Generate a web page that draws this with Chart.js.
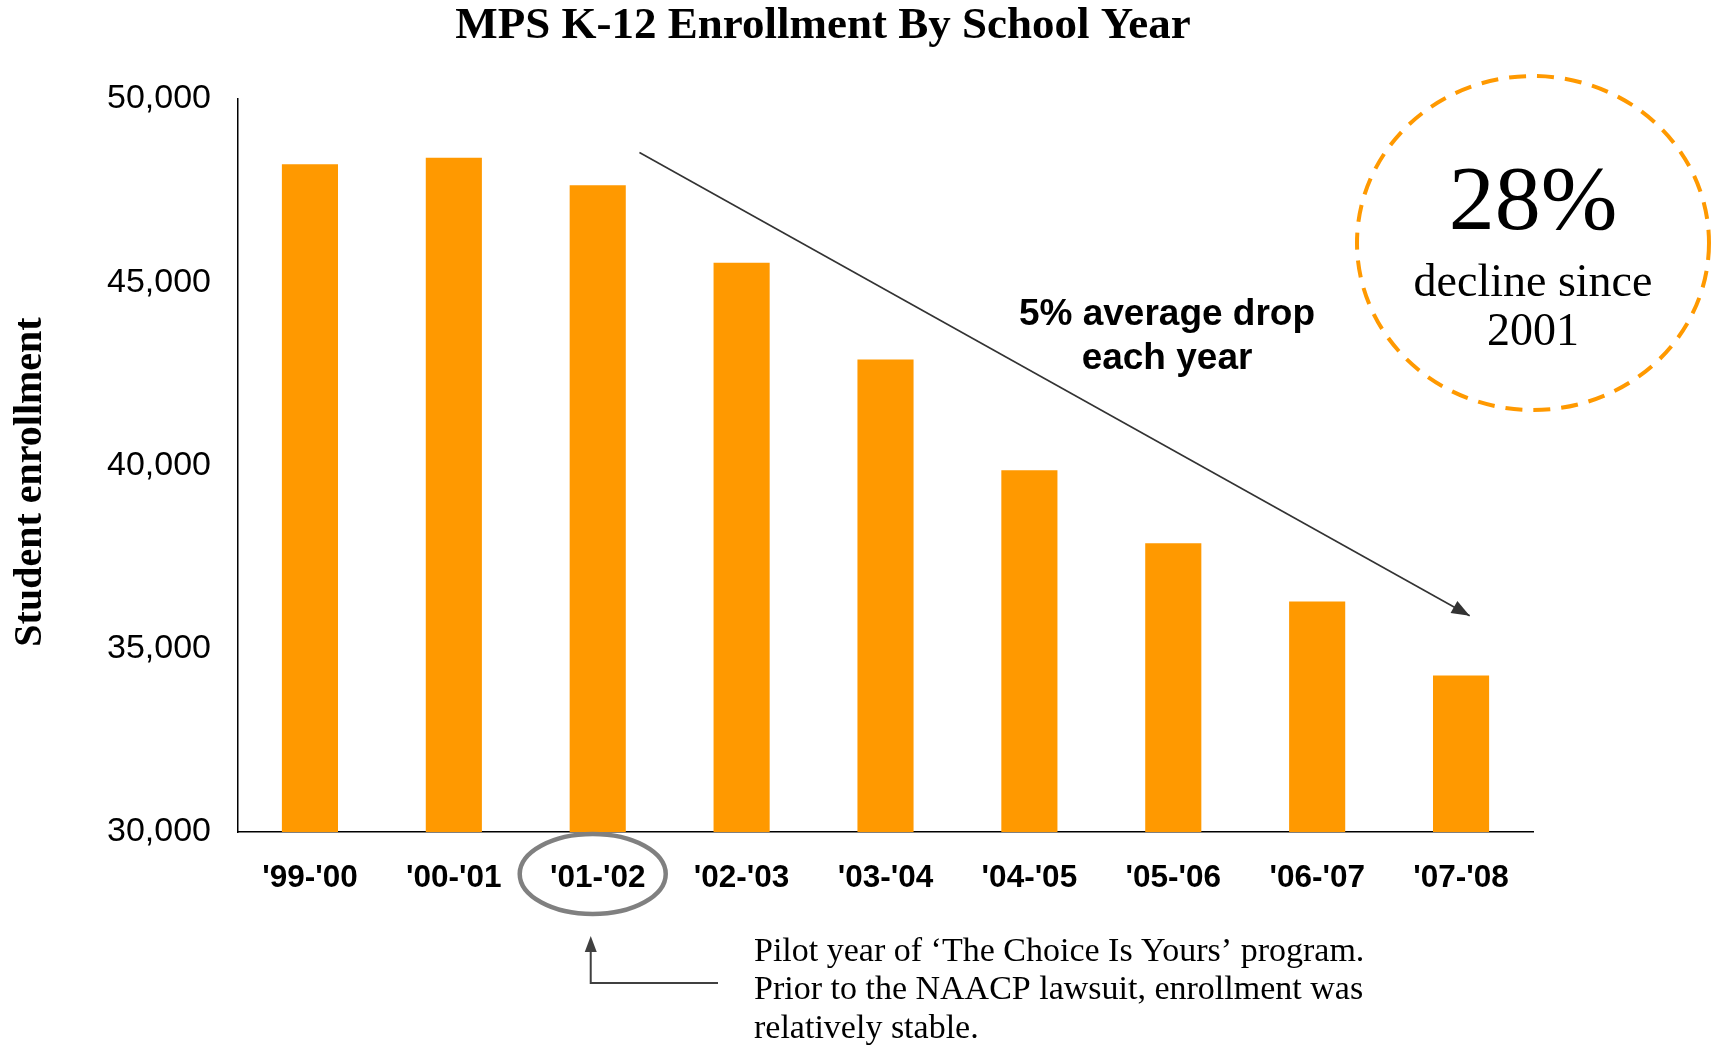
<!DOCTYPE html>
<html>
<head>
<meta charset="utf-8">
<title>MPS K-12 Enrollment By School Year</title>
<script src="https://cdn.jsdelivr.net/npm/chart.js@4.4.1/dist/chart.umd.min.js"></script>
<style>
  html, body { margin: 0; padding: 0; background: #fff; }
  #wrap { width: 1717px; height: 1046px; }
</style>
</head>
<body>
<div id="wrap"><canvas id="enrollmentChart" width="1717" height="1046"></canvas></div>
<script>
// data
const schoolYears = ["'99-'00", "'00-'01", "'01-'02", "'02-'03", "'03-'04", "'04-'05", "'05-'06", "'06-'07", "'07-'08"];
const enrollment = [48220, 48400, 47650, 45530, 42890, 39870, 37880, 36290, 34270];
const yTicks = [30000, 35000, 40000, 45000, 50000];
const noteLines = [
    "Pilot year of \u2018The Choice Is Yours\u2019 program.",
    "Prior to the NAACP lawsuit, enrollment was",
    "relatively stable."
];

const ORANGE = "rgb(255, 153, 0)";
const SERIF = '"Palatino Linotype", "Book Antiqua", Palatino, "Liberation Serif", serif';
const SANS = '"Liberation Sans", Arial, sans-serif';

// Draws the titles, the call-outs and arrows on top of the bars
const annotations = {
    id: "annotations",
    afterDraw(chart) {
        const ctx = chart.ctx;
        const x = chart.scales.x;
        const y = chart.scales.y;
        const area = chart.chartArea;
        ctx.save();

        // title
        ctx.fillStyle = "#000";
        ctx.font = "bold 45px " + SERIF;
        ctx.textAlign = "center";
        ctx.textBaseline = "middle";
        ctx.fillText("MPS K-12 Enrollment By School Year", 823, 26);

        // y axis title
        ctx.save();
        ctx.translate(31, 482);
        ctx.rotate(-Math.PI / 2);
        ctx.font = "bold 40px " + SERIF;
        ctx.fillText("Student enrollment", 0, 0);
        ctx.restore();

        // trend arrow
        const x0 = x.getPixelForValue(2.29), y0 = y.getPixelForValue(48540);
        const x1 = x.getPixelForValue(8.06), y1 = y.getPixelForValue(35900);
        ctx.strokeStyle = "#333";
        ctx.fillStyle = "#333";
        ctx.lineWidth = 1.6;
        ctx.beginPath();
        ctx.moveTo(x0, y0);
        ctx.lineTo(x1, y1);
        ctx.stroke();
        const ang = Math.atan2(y1 - y0, x1 - x0);
        ctx.beginPath();
        ctx.moveTo(x1, y1);
        ctx.lineTo(x1 - 18 * Math.cos(ang) + 7 * Math.sin(ang), y1 - 18 * Math.sin(ang) - 7 * Math.cos(ang));
        ctx.lineTo(x1 - 18 * Math.cos(ang) - 7 * Math.sin(ang), y1 - 18 * Math.sin(ang) + 7 * Math.cos(ang));
        ctx.closePath();
        ctx.fill();

        ctx.fillStyle = "#000";
        ctx.font = "bold 37px " + SANS;
        ctx.fillText("5% average drop", 1167, 315);
        ctx.fillText("each year", 1167, 359);

        // dashed circle
        ctx.strokeStyle = ORANGE;
        ctx.lineWidth = 4;
        ctx.setLineDash([17, 11]);
        ctx.beginPath();
        ctx.ellipse(area.right, 243, 176, 167, 0, 0, Math.PI * 2);
        ctx.stroke();
        ctx.setLineDash([]);

        ctx.fillStyle = "#000";
        ctx.font = "92px " + SERIF;
        ctx.textBaseline = "alphabetic";
        ctx.fillText("28%", area.right, 229);
        ctx.font = "46px " + SERIF;
        ctx.fillText("decline since", area.right, 296);
        ctx.fillText("2001", area.right, 345);

        // grey ring round the pilot year
        const cx = x.getPixelForValue(2) - 5;
        ctx.strokeStyle = "#808080";
        ctx.lineWidth = 4.5;
        ctx.beginPath();
        ctx.ellipse(cx, 874, 73, 40, 0, 0, Math.PI * 2);
        ctx.stroke();

        // elbow arrow to the note
        ctx.strokeStyle = "#404040";
        ctx.fillStyle = "#404040";
        ctx.lineWidth = 2;
        ctx.beginPath();
        ctx.moveTo(718, 983);
        ctx.lineTo(cx - 2, 983);
        ctx.lineTo(cx - 2, 950);
        ctx.stroke();
        ctx.beginPath();
        ctx.moveTo(cx - 2, 936);
        ctx.lineTo(cx - 8, 952);
        ctx.lineTo(cx + 4, 952);
        ctx.closePath();
        ctx.fill();

        ctx.fillStyle = "#000";
        ctx.font = "34px " + SERIF;
        ctx.textAlign = "left";
        ctx.textBaseline = "middle";
        noteLines.forEach((line, i) => ctx.fillText(line, 754, 952 + i * 38.5));

        ctx.restore();
    }
};

const ctx = document.getElementById("enrollmentChart").getContext("2d");

new Chart(ctx, {
    type: "bar",
    data: {
        labels: schoolYears,
        datasets: [{
            label: "Student enrollment",
            data: enrollment,
            backgroundColor: ORANGE,
            borderWidth: 0,
            categoryPercentage: 1.0,
            barPercentage: 0.39,
        }],
    },
    options: {
        responsive: false,
        animation: false,
        devicePixelRatio: 1,
        layout: {
            padding: { top: 99, right: 184, bottom: 0, left: 0 },
        },
        plugins: {
            legend: { display: false },
            title: { display: false },
            tooltip: { enabled: false },
        },
        scales: {
            x: {
                grid: { display: false, drawTicks: false },
                border: { color: "#000", width: 1.5 },
                ticks: {
                    color: "#000",
                    font: { family: SANS, size: 31.5, weight: "bold" },
                    padding: 27,
                    maxRotation: 0,
                },
                afterFit: scale => { scale.height = 214; },
            },
            y: {
                min: 30000,
                max: 50000,
                grid: { display: false, drawTicks: false },
                border: { color: "#000", width: 1.5 },
                afterBuildTicks: scale => { scale.ticks = yTicks.map(v => ({ value: v })); },
                ticks: {
                    color: "#000",
                    font: { family: SANS, size: 34 },
                    padding: 27,
                    callback: v => v.toLocaleString("en-US"),
                },
                afterFit: scale => { scale.width = 238; },
            },
        },
    },
    plugins: [annotations],
});
</script>
</body>
</html>
